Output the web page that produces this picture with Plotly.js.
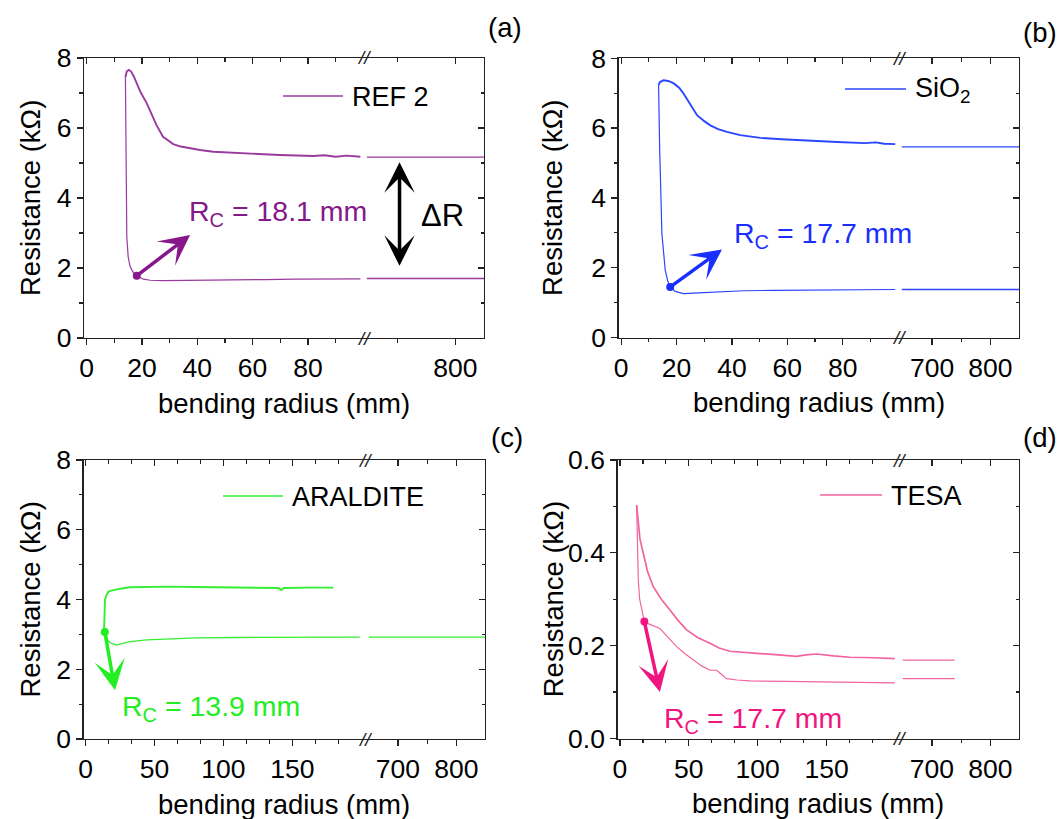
<!DOCTYPE html>
<html><head><meta charset="utf-8">
<script src="https://cdn.plot.ly/plotly-3.0.1.min.js"></script>
<style>html,body{margin:0;padding:0;background:#fff}#chart{width:1060px;height:819px}</style>
</head><body><div id="chart"></div>
<script>
// ---------------- DATA ----------------
// (a) REF 2
const refUpX = [14.0, 14.5, 15.2, 16.0, 17.0, 18.0, 19.5, 21.7, 23.5, 25.2, 27.6, 31.3, 34, 37.4, 41, 45.8, 52, 57.9, 64, 69.9, 76, 82, 86, 90, 94, 99];
const refUpY = [7.45, 7.62, 7.66, 7.62, 7.48, 7.30, 7.02, 6.71, 6.38, 6.09, 5.75, 5.54, 5.47, 5.42, 5.37, 5.32, 5.29, 5.26, 5.25, 5.23, 5.22, 5.2, 5.22, 5.18, 5.21, 5.18];
const refLoX = [14.0, 14.1, 14.3, 14.5, 15.0, 15.7, 16.9, 18.1, 20.5, 23, 27.7, 35, 45, 55, 65, 75, 85, 99];
const refLoY = [7.45, 6.0, 4.2, 2.89, 2.32, 2.04, 1.86, 1.78, 1.68, 1.65, 1.64, 1.65, 1.66, 1.67, 1.67, 1.68, 1.68, 1.69];
const refFarX = [648, 849];
const refFarUpY = [5.17, 5.17];
const refFarLoY = [1.70, 1.70];

// (b) SiO2
const sioUpX = [13.5, 14.0, 15.3, 17, 19, 21, 22.5, 24, 25.5, 27.4, 30, 32.2, 35, 38.2, 43, 50.3, 58, 68.4, 78, 88, 92, 95, 99];
const sioUpY = [7.23, 7.32, 7.37, 7.35, 7.28, 7.15, 6.99, 6.80, 6.58, 6.37, 6.20, 6.08, 5.97, 5.89, 5.80, 5.72, 5.68, 5.63, 5.60, 5.57, 5.59, 5.55, 5.54];
const sioLoX = [13.5, 13.9, 14.7, 15.9, 16.8, 17.7, 19.5, 22.5, 28, 35, 44.2, 55, 70, 85, 99];
const sioLoY = [7.23, 5.37, 2.98, 1.93, 1.62, 1.45, 1.32, 1.26, 1.28, 1.31, 1.34, 1.35, 1.36, 1.37, 1.375];
const sioFarX = [648, 849];
const sioFarUpY = [5.46, 5.46];
const sioFarLoY = [1.375, 1.375];

// (c) ARALDITE
const araUpX = [13.3, 13.4, 14.0, 15, 16.4, 18, 20, 25, 32.2, 45, 60, 80, 100, 120, 140, 142, 144, 160, 179.8];
const araUpY = [3.07, 3.6, 3.99, 4.12, 4.22, 4.25, 4.27, 4.31, 4.35, 4.36, 4.37, 4.36, 4.35, 4.34, 4.33, 4.27, 4.33, 4.34, 4.34];
const araLoX = [13.3, 13.9, 15, 16.5, 18.9, 22.5, 27, 32.2, 44.3, 60, 80.6, 110, 140, 170, 199];
const araLoY = [3.07, 3.06, 2.95, 2.80, 2.74, 2.69, 2.74, 2.79, 2.84, 2.87, 2.90, 2.91, 2.91, 2.92, 2.92];
const araFarX = [650, 849];
const araFarLoY = [2.92, 2.92];

// (d) TESA
const tesUpX = [12.1, 13, 14.5, 16.9, 20, 24.2, 30, 36.3, 42, 48.4, 56, 65.3, 72, 79.8, 90, 101.6, 115, 128.2, 135, 142.7, 155, 166.9, 185, 199.6];
const tesUpY = [0.503, 0.47, 0.43, 0.399, 0.36, 0.327, 0.30, 0.277, 0.255, 0.234, 0.218, 0.205, 0.195, 0.188, 0.185, 0.183, 0.180, 0.177, 0.180, 0.182, 0.178, 0.175, 0.174, 0.172];
const tesLoX = [12.1, 12.6, 13.3, 14.3, 15.7, 17.7, 20, 24, 29, 35, 41.1, 47, 53.2, 59, 65.3, 70.2, 73, 77.4, 85, 94.3, 120, 150, 175, 199.6];
const tesLoY = [0.503, 0.42, 0.341, 0.30, 0.277, 0.252, 0.248, 0.243, 0.237, 0.218, 0.198, 0.183, 0.169, 0.157, 0.147, 0.147, 0.14, 0.129, 0.126, 0.124, 0.123, 0.122, 0.121, 0.120];
const tesFarX = [650, 739];
const tesFarUpY = [0.169, 0.169];
const tesFarLoY = [0.129, 0.129];

// critical radius markers
const rcVals = [18.1, 17.7, 13.9, 17.7];
const rcRes = [1.78, 1.45, 3.07, 0.252];
const rcLabels = ['18.1', '17.7', '13.9', '17.7'];
const seriesNames = ['REF 2', 'SiO<sub>2</sub>', 'ARALDITE', 'TESA'];
const panelTags = ['(a)', '(b)', '(c)', '(d)'];

// axis ticks
const yTicksK = [0, 2, 4, 6, 8];
const yMinorK = [1, 3, 5, 7];
const yTicksT = [0, 0.2, 0.4, 0.6];
const yMinorT = [0.1, 0.3, 0.5];
const xTicksNear100 = [0, 20, 40, 60, 80];
const xMinorNear100 = [10, 30, 50, 70, 90];
const xTicksNear200 = [0, 50, 100, 150];
const xMinorNear200 = [16.67, 33.33, 66.67, 83.33, 116.67, 133.33, 166.67, 183.33];
const xTicksFarA = [800];
const xMinorFarA = [700];
const xTicksFar = [700, 800];
const xMinorFar = [750];

// ---------------- LAYOUT ----------------
const W = 1060, H = 819;
const FONT = 'Liberation Sans, Arial, Helvetica, sans-serif';
const px = x => x / W;
const py = y => 1 - y / H;
const INK = '#222';
const TICKSIZE = 26.5, TITLESIZE = 27.5;

const panels = [
  {L: 84, R: 484, T: 58, B: 338, near: [-0.98, 100.3], far: [643, 849], yr: [0, 8],
   yt: yTicksK, ym: yMinorK, xt: xTicksNear100, xm: xMinorNear100, ft: xTicksFarA, fm: xMinorFarA,
   line: '#9A3A9E', acc: '#86188A',
   traces: [[refUpX, refUpY, 1.9], [refLoX, refLoY, 1.2]], far2: [[refFarX, refFarUpY], [refFarX, refFarLoY]],
   head: [37.4, 2.94], txt: [36.2, 3.57], ytitleX: 30, tag: [505, 28], leg: [283, 343, 96]},
  {L: 618.5, R: 1019, T: 58.3, B: 337.5, near: [-0.98, 100.3], far: [643, 849], yr: [0, 8],
   yt: yTicksK, ym: yMinorK, xt: xTicksNear100, xm: xMinorNear100, ft: xTicksFar, fm: xMinorFar,
   line: '#2A46FF', acc: '#1A2EFF',
   traces: [[sioUpX, sioUpY, 1.9], [sioLoX, sioLoY, 1.2]], far2: [[sioFarX, sioFarUpY], [sioFarX, sioFarLoY]],
   head: [36.4, 2.52], txt: [40.0, 2.93], ytitleX: 553, tag: [1040, 33], leg: [845, 906, 89]},
  {L: 83.5, R: 485, T: 460, B: 739, near: [-1.6, 202.5], far: [643, 849], yr: [0, 8],
   yt: yTicksK, ym: yMinorK, xt: xTicksNear200, xm: xMinorNear200, ft: xTicksFar, fm: xMinorFar,
   line: '#33EE33', acc: '#22EE22',
   traces: [[araUpX, araUpY, 1.9], [araLoX, araLoY, 1.3]], far2: [[araFarX, araFarLoY]],
   head: [21.3, 1.40], txt: [24.9, 0.89], ytitleX: 30, tag: [507, 437], leg: [223, 283, 496]},
  {L: 617.5, R: 1019, T: 460, B: 738.5, near: [-1.8, 202.3], far: [643, 849], yr: [0, 0.6],
   yt: yTicksT, ym: yMinorT, xt: xTicksNear200, xm: xMinorNear200, ft: xTicksFar, fm: xMinorFar,
   line: '#F2649F', acc: '#F0157F',
   traces: [[tesUpX, tesUpY, 1.7], [tesLoX, tesLoY, 1.2]], far2: [[tesFarX, tesFarUpY], [tesFarX, tesFarLoY]],
   head: [29.0, 0.10], txt: [30.3, 0.04], ytitleX: 553, tag: [1040, 437], leg: [820, 882, 495]}
];

const layout = {
  width: W, height: H, margin: {l: 0, r: 0, t: 0, b: 0},
  paper_bgcolor: '#ffffff', plot_bgcolor: 'rgba(0,0,0,0)', showlegend: false,
  font: {family: FONT, size: TICKSIZE, color: '#000'},
  annotations: [], shapes: []
};
const data = [];
const SPLIT = 0.7;

function axName(prefix, k) { return k === 1 ? prefix + 'axis' : prefix + 'axis' + k; }
function ref(prefix, k) { return k === 1 ? prefix : prefix + k; }

const baseAx = {
  showline: true, linecolor: INK, linewidth: 1.3, showgrid: false, zeroline: false,
  tickcolor: INK, tickwidth: 1.3, ticklen: 6, fixedrange: true, tickmode: 'array',
  tickfont: {family: FONT, size: TICKSIZE, color: '#000'}
};
function minor(vals, dir) {
  return {tickmode: 'array', tickvals: vals, ticks: dir, ticklen: 3.5, tickwidth: 1.2, tickcolor: INK, showgrid: false};
}
function frameTrace(xr, yr) {
  // empty helper trace so the mirrored frame axis gets drawn
  return {type: 'scatter', mode: 'lines', x: [], y: [], xaxis: xr, yaxis: yr, hoverinfo: 'skip', showlegend: false};
}

panels.forEach((p, i) => {
  const kxn = 2 * i + 1, kxf = 2 * i + 2, ky = i + 1;
  const kxnT = 9 + 2 * i, kxfT = 10 + 2 * i, kyR = 5 + i;
  const split = p.L + SPLIT * (p.R - p.L);
  const yDom = [py(p.B), py(p.T)];
  const nearDom = [px(p.L), px(split)];
  const farDom = [px(split), px(p.R)];

  layout[axName('x', kxn)] = Object.assign({}, baseAx, {
    domain: nearDom, range: p.near, anchor: ref('y', ky), ticks: 'outside',
    tickvals: p.xt, minor: minor(p.xm, 'outside')
  });
  layout[axName('x', kxf)] = Object.assign({}, baseAx, {
    domain: farDom, range: p.far, anchor: ref('y', ky), ticks: 'outside',
    tickvals: p.ft, minor: minor(p.fm, 'outside')
  });
  layout[axName('y', ky)] = Object.assign({}, baseAx, {
    domain: yDom, range: p.yr, anchor: ref('x', kxn), ticks: 'outside',
    tickvals: p.yt, ticktext: p.yt.map(v => p.yr[1] < 1 ? v.toFixed(1) : String(v)),
    minor: minor(p.ym, 'outside')
  });
  // mirrored frame with inward ticks (top and right)
  layout[axName('x', kxnT)] = Object.assign({}, baseAx, {
    overlaying: ref('x', kxn), anchor: ref('y', ky), side: 'top', range: p.near,
    ticks: 'inside', tickvals: p.xt, showticklabels: false, minor: minor(p.xm, 'inside')
  });
  layout[axName('x', kxfT)] = Object.assign({}, baseAx, {
    overlaying: ref('x', kxf), anchor: ref('y', ky), side: 'top', range: p.far,
    ticks: 'inside', tickvals: p.ft, showticklabels: false, minor: minor(p.fm, 'inside')
  });
  layout[axName('y', kyR)] = Object.assign({}, baseAx, {
    overlaying: ref('y', ky), anchor: ref('x', kxf), side: 'right', range: p.yr,
    ticks: 'inside', tickvals: p.yt, showticklabels: false, minor: minor(p.ym, 'inside')
  });
  data.push(frameTrace(ref('x', kxnT), ref('y', ky)));
  data.push(frameTrace(ref('x', kxfT), ref('y', ky)));
  data.push(frameTrace(ref('x', kxf), ref('y', kyR)));

  // data traces
  p.traces.forEach(t => data.push({
    type: 'scatter', mode: 'lines', x: t[0], y: t[1], xaxis: ref('x', kxn), yaxis: ref('y', ky),
    line: {color: p.line, width: t[2]}, hoverinfo: 'skip'
  }));
  p.far2.forEach(t => data.push({
    type: 'scatter', mode: 'lines', x: t[0], y: t[1], xaxis: ref('x', kxf), yaxis: ref('y', ky),
    line: {color: p.line, width: 1.3}, hoverinfo: 'skip'
  }));
  data.push({
    type: 'scatter', mode: 'markers', x: [rcVals[i]], y: [rcRes[i]], xaxis: ref('x', kxn), yaxis: ref('y', ky),
    marker: {color: p.acc, size: 8}, hoverinfo: 'skip'
  });

  // Rc arrow + label
  layout.annotations.push({
    xref: ref('x', kxn), yref: ref('y', ky), axref: ref('x', kxn), ayref: ref('y', ky),
    x: p.head[0], y: p.head[1], ax: rcVals[i], ay: rcRes[i], text: '', showarrow: true,
    arrowhead: 3, arrowsize: 1.45, arrowwidth: 3.5, arrowcolor: p.acc, standoff: 0, startstandoff: 0
  });
  layout.annotations.push({
    xref: ref('x', kxn), yref: ref('y', ky), x: p.txt[0], y: p.txt[1], xanchor: 'left', yanchor: 'middle',
    text: 'R<sub>C</sub> = ' + rcLabels[i] + ' mm', showarrow: false,
    font: {family: FONT, size: 28.5, color: p.acc}
  });

  // legend
  layout.shapes.push({type: 'line', xref: 'paper', yref: 'paper', x0: px(p.leg[0]), x1: px(p.leg[1]),
    y0: py(p.leg[2]), y1: py(p.leg[2]), line: {color: p.line, width: 1.3}});
  layout.annotations.push({xref: 'paper', yref: 'paper', x: px(p.leg[1] + 7), y: py(p.leg[2] + 1),
    xanchor: 'left', yanchor: 'middle', text: seriesNames[i], showarrow: false,
    font: {family: FONT, size: 27, color: '#000'}});

  // axis break marks
  [p.T, p.B].forEach(yy => layout.annotations.push({xref: 'paper', yref: 'paper', x: px(split), y: py(yy),
    xanchor: 'center', yanchor: 'middle', text: '<i>//</i>', showarrow: false,
    font: {family: FONT, size: 19, color: INK}}));

  // axis titles
  layout.annotations.push({xref: 'paper', yref: 'paper', x: px((p.L + p.R) / 2), y: py(p.B + 65),
    xanchor: 'center', yanchor: 'middle', text: 'bending radius (mm)', showarrow: false,
    font: {family: FONT, size: TITLESIZE, color: '#000'}});
  layout.annotations.push({xref: 'paper', yref: 'paper', x: px(p.ytitleX), y: py((p.T + p.B) / 2),
    xanchor: 'center', yanchor: 'middle', textangle: -90, text: 'Resistance (kΩ)', showarrow: false,
    font: {family: FONT, size: TITLESIZE, color: '#000'}});
  // panel tag
  layout.annotations.push({xref: 'paper', yref: 'paper', x: px(p.tag[0]), y: py(p.tag[1]),
    xanchor: 'center', yanchor: 'middle', text: panelTags[i], showarrow: false,
    font: {family: FONT, size: TITLESIZE, color: '#000'}});
});

// ΔR double arrow in panel (a), far segment
layout.annotations.push({
  xref: 'x2', yref: 'y', axref: 'x2', ayref: 'y', x: 704, y: 5.02, ax: 704, ay: 2.02, text: '',
  showarrow: true, arrowside: 'end+start', arrowhead: 3, startarrowhead: 3, arrowsize: 1.45, startarrowsize: 1.45,
  arrowwidth: 3.5, arrowcolor: '#000', standoff: 0, startstandoff: 0
});
layout.annotations.push({
  xref: 'x2', yref: 'y', x: 738, y: 3.51, xanchor: 'left', yanchor: 'middle', text: 'ΔR', showarrow: false,
  font: {family: FONT, size: 31, color: '#000'}
});

Plotly.newPlot('chart', data, layout, {staticPlot: true, displayModeBar: false});
</script>
</body></html>
